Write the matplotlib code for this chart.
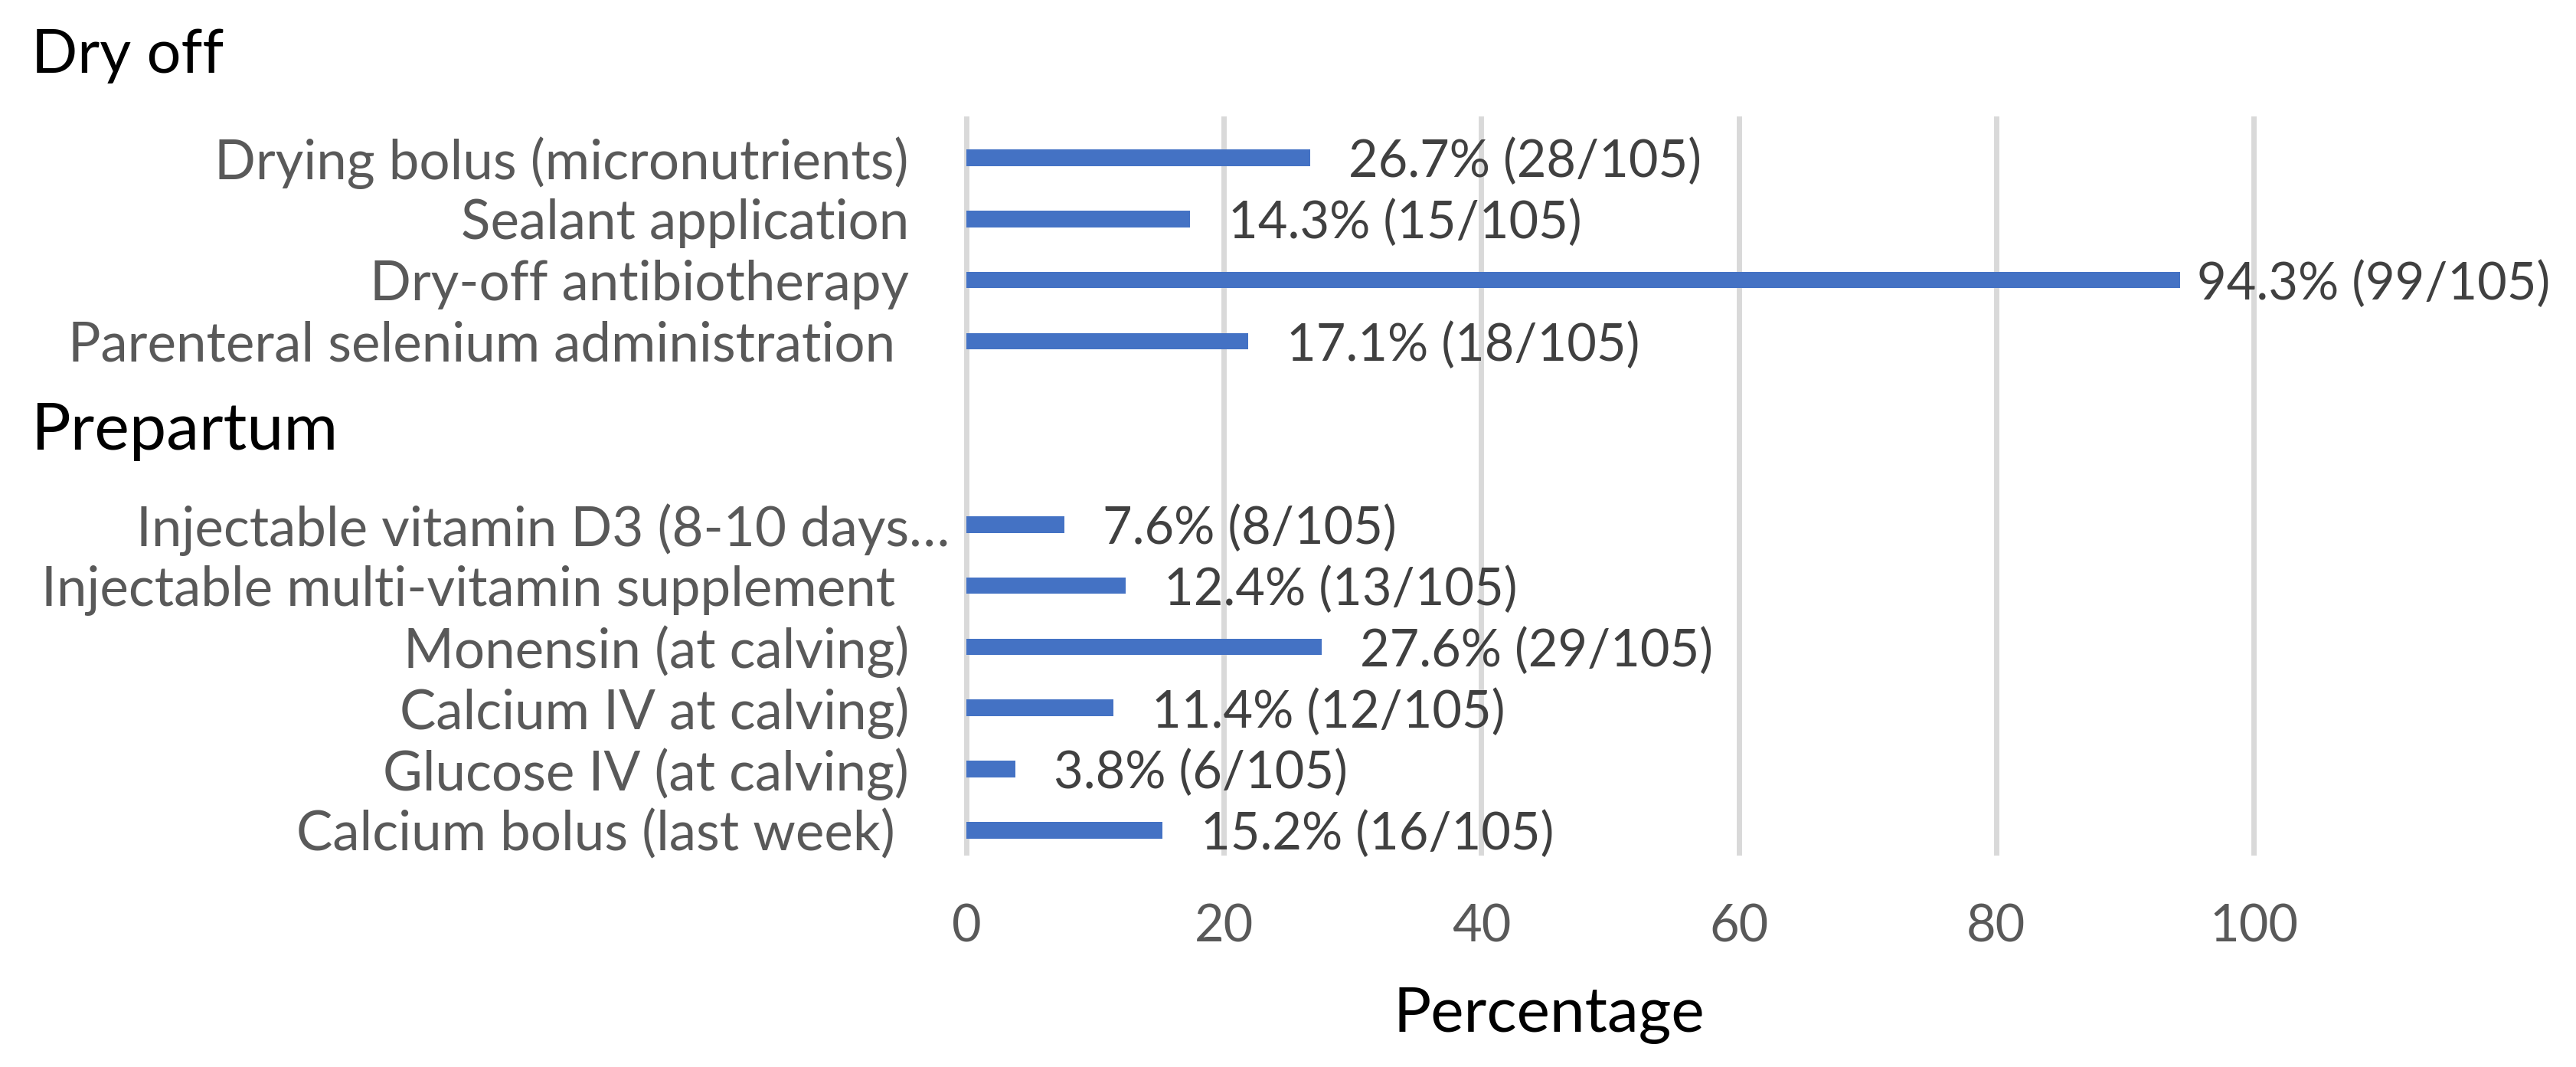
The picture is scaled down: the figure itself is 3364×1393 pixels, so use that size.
import matplotlib.pyplot as plt
import matplotlib.transforms as mtransforms
import numpy as np

plt.rcParams['font.family'] = ['Lato', 'DejaVu Sans']

# data
group_names = ["Dry off", "Prepartum"]

dry_off_items = ["Drying bolus (micronutrients)", "Sealant application",
                 "Dry-off antibiotherapy", "Parenteral selenium administration "]
dry_off_pct = [26.7, 17.4, 94.3, 21.9]
dry_off_labels = ["26.7% (28/105)", "14.3% (15/105)", "94.3% (99/105)", "17.1% (18/105)"]

prepartum_items = ["Injectable vitamin D3 (8-10 days\u2026", "Injectable multi-vitamin supplement ",
                   "Monensin (at calving)", "Calcium IV at calving)",
                   "Glucose IV (at calving)", "Calcium bolus (last week) "]
prepartum_pct = [7.6, 12.4, 27.6, 11.4, 3.8, 15.2]
prepartum_labels = ["7.6% (8/105)", "12.4% (13/105)", "27.6% (29/105)",
                    "11.4% (12/105)", "3.8% (6/105)", "15.2% (16/105)"]

x_ticks = [0, 20, 40, 60, 80, 100]

W, H, DPI = 3364, 1393, 200
fig = plt.figure(figsize=(W / DPI, H / DPI), dpi=DPI)

# axes placed in pixel terms
x0, x1, y0, y1 = 1262, 2943, 155, 1113
ax = fig.add_axes([x0 / W, 1 - y1 / H, (x1 - x0) / W, (y1 - y0) / H])

dry_pos = np.arange(len(dry_off_items))
pre_pos = np.arange(len(prepartum_items)) + len(dry_off_items) + 2

pos = np.concatenate([dry_pos, pre_pos])
vals = dry_off_pct + prepartum_pct
names = dry_off_items + prepartum_items
texts = dry_off_labels + prepartum_labels

ax.barh(pos, vals, height=0.272, color='#4472C4', zorder=3)

ax.set_xlim(0, 100)
ax.set_ylim(11.366, -0.639)
ax.set_xticks(x_ticks)
ax.set_yticks(pos)
ax.set_yticklabels(names)

ax.grid(axis='x', color='#D9D9D9', linewidth=2.5, zorder=0)
for gl in ax.get_xgridlines():
    gl.set_clip_on(False)
for s in ax.spines.values():
    s.set_visible(False)

ax.tick_params(axis='y', length=0, pad=27, labelsize=25.5, labelcolor='#595959')
ax.tick_params(axis='x', length=0, pad=24, labelsize=24, labelcolor='#595959')

# the truncated label sits further right in the original
for lab in ax.get_yticklabels():
    if lab.get_text().endswith('\u2026'):
        lab.set_transform(lab.get_transform() +
                          mtransforms.ScaledTranslation(19 / 72, 0, fig.dpi_scale_trans))

for p, v, t in zip(pos, vals, texts):
    pad = 8 if v > 90 else 18
    ax.annotate(t, xy=(v, p), xytext=(pad, 0), textcoords='offset points',
                va='center_baseline', ha='left', fontsize=24, color='#404040',
                annotation_clip=False)

# group headers
fig.text(41 / W, 1 - 95 / H, group_names[0], fontsize=28.6, va='baseline', color='black')
fig.text(40 / W, 1 - 587.5 / H, group_names[1], fontsize=31, va='baseline', color='black')

fig.text(2023 / W, 1 - 1347 / H, "Percentage", ha='center', va='baseline',
         fontsize=29.5, color='black')

fig.savefig('out.png', dpi=DPI)
